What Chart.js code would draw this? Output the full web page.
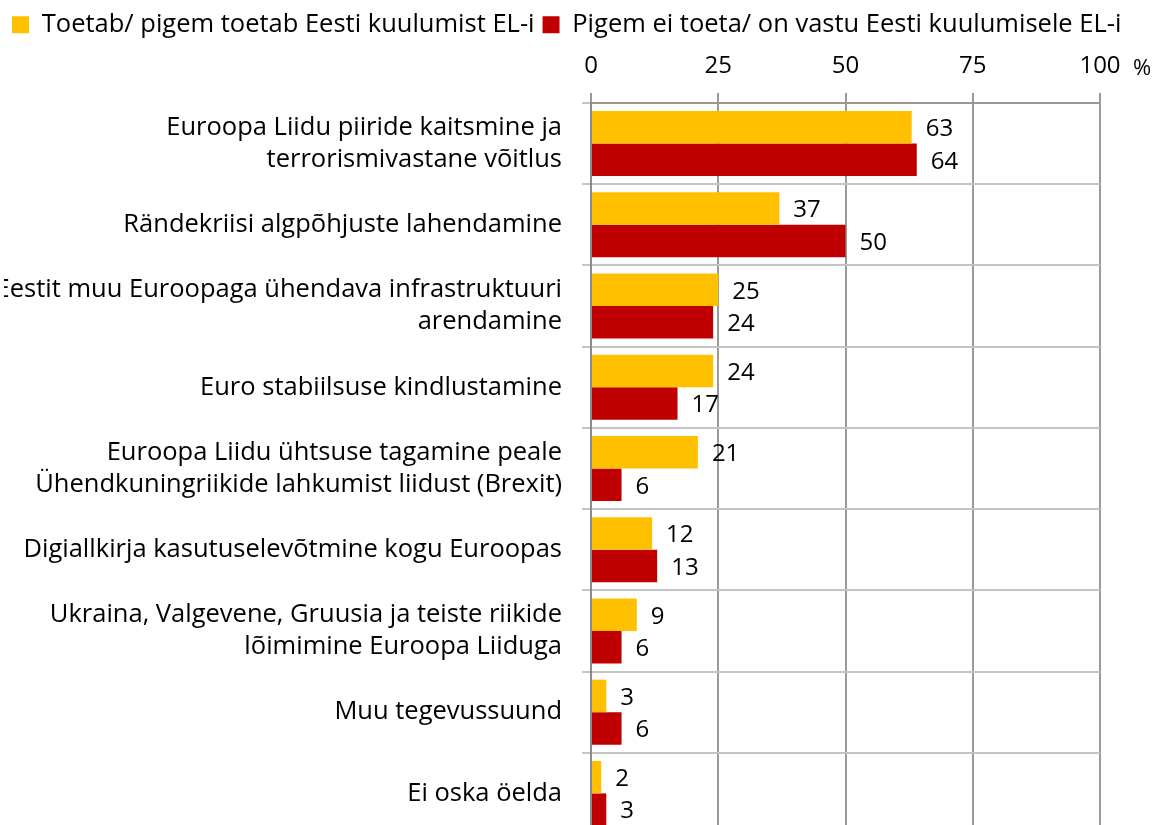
<!DOCTYPE html>
<html><head><meta charset="utf-8">
<script src="https://cdn.jsdelivr.net/npm/chart.js@4.4.1/dist/chart.umd.min.js"></script>
<style>html,body{margin:0;padding:0;background:#fff;overflow:hidden}#wrap{width:1160px;height:834px;position:relative}</style>
</head><body><div id="wrap"><canvas id="c"></canvas></div>
<script>
const categories = [
  ["Euroopa Liidu piiride kaitsmine ja", "terrorismivastane võitlus"],
  "Rändekriisi algpõhjuste lahendamine",
  ["Eestit muu Euroopaga ühendava infrastruktuuri", "arendamine"],
  "Euro stabiilsuse kindlustamine",
  ["Euroopa Liidu ühtsuse tagamine peale", "Ühendkuningriikide lahkumist liidust (Brexit)"],
  "Digiallkirja kasutuselevõtmine kogu Euroopas",
  ["Ukraina, Valgevene, Gruusia ja teiste riikide", "lõimimine Euroopa Liiduga"],
  "Muu tegevussuund",
  "Ei oska öelda"
];
const supportValues = [63, 37, 25, 24, 21, 12, 9, 3, 2];
const opposeValues  = [64, 50, 24, 17, 6, 13, 6, 6, 3];
const seriesNames = ["Toetab/ pigem toetab Eesti kuulumist EL-i", "Pigem ei toeta/ on vastu Eesti kuulumisele EL-i"];
const xTicks = [0, 25, 50, 75, 100];
const unitLabel = "%";

const FONT = "'Open Sans'";

const legendFix = {
  id: 'legendFix',
  afterInit(chart) {
    const lg = chart.legend;
    if (lg) {
      const orig = lg.fit;
      lg.fit = function () { orig.call(this); this.height = 43; };
    }
  }
};
const valueLabels = {
  id: 'valueLabels',
  afterDatasetsDraw(chart) {
    const ctx = chart.ctx;
    ctx.save();
    ctx.font = "24px " + FONT;
    ctx.fillStyle = '#000';
    ctx.textAlign = 'left';
    ctx.textBaseline = 'middle';
    chart.data.datasets.forEach((ds, i) => {
      chart.getDatasetMeta(i).data.forEach((bar, j) => {
        ctx.fillText(String(ds.data[j]), bar.x + 14, bar.y + 2);
      });
    });
    ctx.restore();
  }
};
const unitPlugin = {
  id: 'unitPlugin',
  afterDraw(chart) {
    const ctx = chart.ctx, xs = chart.scales.x;
    ctx.save();
    ctx.font = "22px " + FONT;
    ctx.fillStyle = '#000';
    ctx.textAlign = 'center';
    ctx.textBaseline = 'middle';
    ctx.fillText(unitLabel, xs.getPixelForValue(xTicks[xTicks.length - 1]) + 42, 69);
    ctx.restore();
  }
};

new Chart(document.getElementById('c'), {
  type: 'bar',
  data: {
    labels: categories,
    datasets: [
      { label: seriesNames[0], data: supportValues, backgroundColor: '#FFC000' },
      { label: seriesNames[1], data: opposeValues, backgroundColor: '#C00000' }
    ]
  },
  options: {
    indexAxis: 'y',
    responsive: true,
    maintainAspectRatio: false,
    animation: false,
    layout: { padding: { top: 4, right: 0, left: 4, bottom: 0 } },
    datasets: { bar: { categoryPercentage: 0.8, barPercentage: 1 } },
    plugins: {
      legend: {
        position: 'top', align: 'start',
        labels: { boxWidth: 17, boxHeight: 17, padding: 8, color: '#000', font: { family: FONT, size: 25.5 } }
      },
      tooltip: { enabled: false }
    },
    scales: {
      x: {
        position: 'top', min: 0, max: 100,
        afterBuildTicks(s) { s.ticks = xTicks.map(v => ({ value: v })); },
        afterFit(s) { s.height = 56; s.paddingLeft = 0; s.paddingRight = 0; },
        ticks: { color: '#000', font: { family: FONT, size: 24, lineHeight: 1.583 }, padding: 8 },
        grid: { color: '#9a9a9a', lineWidth: 2, tickLength: 10 },
        border: { color: '#9a9a9a', width: 2 }
      },
      y: {
        afterFit(s) { s.width = 587; s.paddingTop = 0; s.paddingBottom = 0; },
        ticks: { color: '#000', font: { family: FONT, size: 25.5, lineHeight: 1.255 }, padding: 20 },
        grid: { color: '#c4c4c4', lineWidth: 2, tickLength: 9, offset: true },
        border: { color: '#8c8c8c', width: 2 }
      },
      yR: {
        type: 'linear', position: 'right', display: true,
        grid: { display: false }, ticks: { display: false }, border: { display: false },
        afterFit(s) { s.width = 60; s.paddingTop = 0; s.paddingBottom = 0; }
      }
    }
  },
  plugins: [legendFix, valueLabels, unitPlugin]
});
</script>
</body></html>
